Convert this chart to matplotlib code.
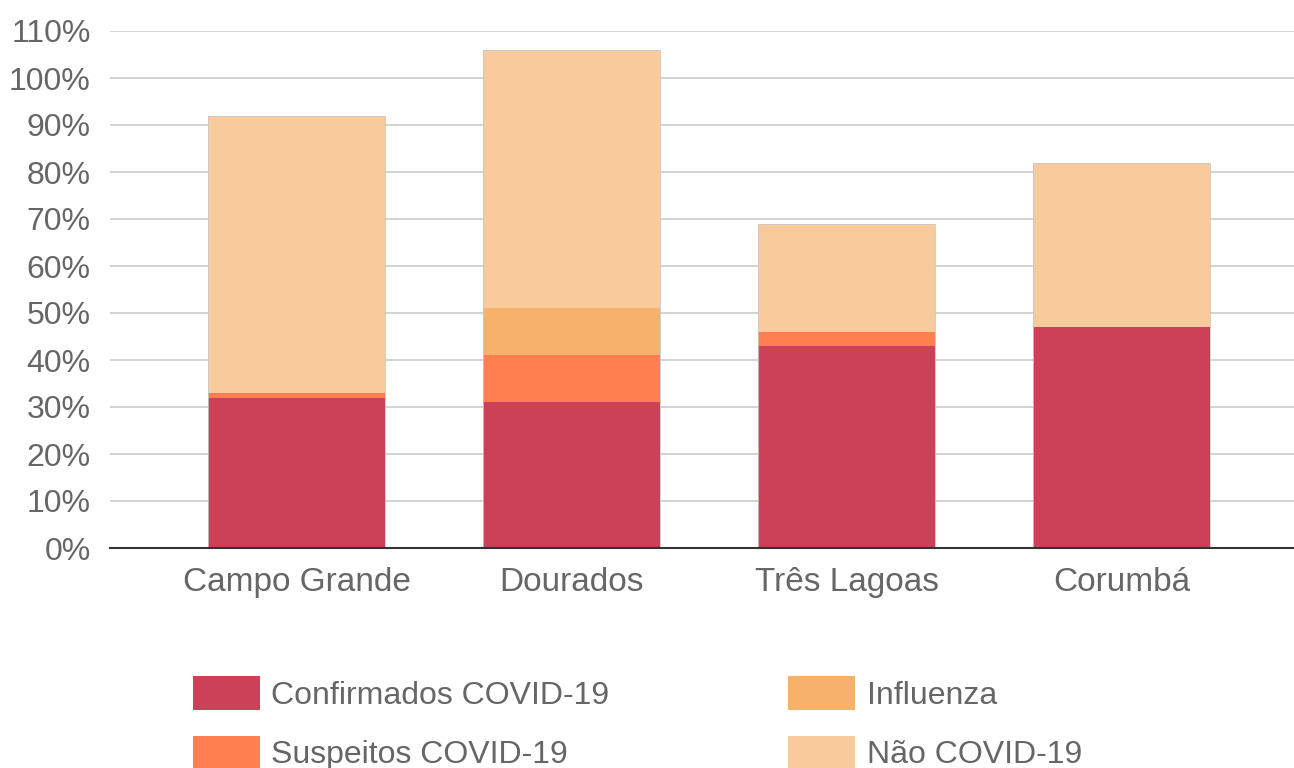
import numpy as np
import matplotlib.pyplot as plt
from matplotlib.ticker import MultipleLocator, FuncFormatter

plt.rcParams['font.family'] = ['Liberation Sans', 'DejaVu Sans']

# data (% of beds)
cities = ['Campo Grande', 'Dourados', 'Três Lagoas', 'Corumbá']
confirmados = [32, 31, 43, 47]
suspeitos = [1, 10, 3, 0]
influenza = [0, 10, 0, 0]
nao_covid = [59, 55, 23, 35]

series = [
    ('Confirmados COVID-19', confirmados, '#cc4158'),
    ('Suspeitos COVID-19', suspeitos, '#ff7f50'),
    ('Influenza', influenza, '#f6b16a'),
    ('Não COVID-19', nao_covid, '#f8ca9c'),
]

fig = plt.figure(figsize=(12.94, 7.68), dpi=100)
ax = fig.add_axes([110 / 1294, 1 - 548 / 768, 1 - 110 / 1294, (548 - 31) / 768])

x = np.arange(len(cities))
bottom = np.zeros(len(cities))
for name, vals, col in series:
    vals = np.array(vals, dtype=float)
    ax.bar(x, vals, 0.644, bottom=bottom, color=col, label=name,
           edgecolor='none', zorder=3)
    bottom += vals
# thin outline around each stack
ax.bar(x, bottom, 0.644, fill=False, edgecolor='#c8c8c8', linewidth=0.6, zorder=3)

ax.set_xlim(-0.678, 3.627)
ax.set_ylim(0, 110)
ax.yaxis.set_major_locator(MultipleLocator(10))
ax.yaxis.set_major_formatter(FuncFormatter(lambda v, p: f'{v:.0f}%'))
ax.grid(axis='y', color='#cccccc', linewidth=1.2, zorder=0)
ax.set_axisbelow(True)
for s in ['top', 'right', 'left']:
    ax.spines[s].set_visible(False)
ax.spines['bottom'].set_color('#333333')
ax.spines['bottom'].set_linewidth(1.5)
ax.spines['bottom'].set_zorder(4)

ax.set_xticks(x)
ax.set_xticklabels(cities)
ax.tick_params(axis='x', length=0, pad=14, labelsize=24, labelcolor='#666666')
ax.tick_params(axis='y', length=0, pad=14, labelsize=23, labelcolor='#666666')

leg = fig.legend(loc='upper left', bbox_to_anchor=(193 / 1294, 1 - 676 / 768),
                 ncol=2, frameon=False, fontsize=23, labelcolor='#666666',
                 handlelength=2.1, handleheight=1.25, handletextpad=0.35,
                 labelspacing=0.78, columnspacing=5.6, borderpad=0, borderaxespad=0)
for h in leg.legend_handles:
    h.set_edgecolor('none')

fig.savefig('out.png', dpi=100)
